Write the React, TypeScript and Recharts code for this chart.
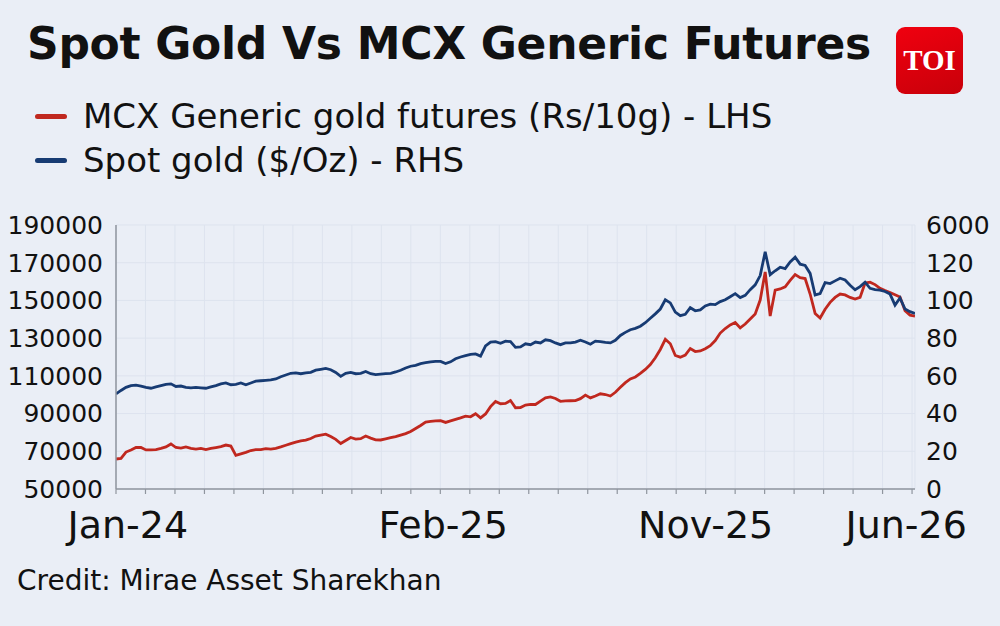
import React from "react";
import {
  LineChart,
  Line,
  XAxis,
  YAxis,
  CartesianGrid,
} from "recharts";

// MCX generic gold futures, Rs per 10g (left scale)
const mcxFutures = [
  65900, 66200, 69600, 70700, 72000, 72000, 70700, 70700, 70900, 71500,
  72300, 73900, 72000, 71700, 72300, 71500, 71200, 71500, 70900, 71500,
  72000, 72500, 73300, 72800, 67800, 68600, 69400, 70400, 70900, 70900,
  71400, 71200, 71500, 72300, 73200, 74100, 74900, 75500, 75900, 76800,
  78100, 78600, 79100, 77800, 76300, 74100, 75700, 77300, 76500, 76700,
  78100, 77000, 76100, 76000, 76600, 77200, 77800, 78600, 79400, 80500,
  82100, 83700, 85500, 85900, 86100, 86200, 85300, 86100, 86900, 87700,
  88600, 88300, 89900, 87700, 89800, 93700, 96400, 95200, 95400, 96900,
  93100, 93200, 94500, 94900, 94800, 96600, 98300, 98800, 98000, 96500,
  96700, 96800, 96900, 97900, 99800, 98300, 99300, 100500, 100100, 99300,
  101300, 103900, 106400, 108400, 109400, 111300, 113400, 116000, 119600, 124000,
  129400, 127000, 120800, 119900, 121000, 124500, 122900, 123200, 124400, 126000,
  128700, 132700, 135100, 137000, 138300, 135400, 137500, 140200, 142800, 150200,
  165100, 141700, 155500, 156100, 157200, 160600, 163700, 162100, 161600, 153400,
  143100, 140700, 145300, 149000, 151600, 153400, 152900, 151600, 150700, 151600,
  159200, 159700, 158400, 156400, 155200, 154200, 153000, 151800, 144600, 142200,
  141700,
];

// Spot gold, $ per oz (right scale)
const spotGold = [
  2160, 2240, 2310, 2350, 2360, 2340, 2310, 2290, 2320, 2350,
  2380, 2390, 2330, 2340, 2310, 2300, 2310, 2300, 2290, 2320,
  2350, 2390, 2410, 2370, 2380, 2410, 2370, 2410, 2450, 2460,
  2470, 2480, 2500, 2550, 2590, 2630, 2640, 2620, 2640, 2650,
  2700, 2720, 2740, 2710, 2650, 2560, 2630, 2650, 2620, 2630,
  2670, 2620, 2600, 2610, 2620, 2630, 2660, 2700, 2750, 2790,
  2810, 2850, 2870, 2890, 2900, 2900, 2850, 2890, 2960, 3000,
  3030, 3060, 3070, 3020, 3250, 3340, 3350, 3310, 3360, 3350,
  3220, 3230, 3300, 3280, 3340, 3320, 3390, 3370, 3320, 3280,
  3320, 3320, 3340, 3380, 3340, 3290, 3360, 3350, 3330, 3320,
  3380, 3490, 3560, 3620, 3650, 3700, 3780, 3880, 3980, 4090,
  4300, 4230, 4020, 3940, 3970, 4120, 4050, 4070, 4160, 4200,
  4190, 4260, 4300, 4370, 4440, 4350, 4400, 4530, 4640, 4850,
  5390, 4870, 4960, 5040, 5010, 5160, 5270, 5110, 5080, 4900,
  4410, 4440, 4690, 4670, 4730, 4790, 4750, 4630, 4530, 4600,
  4700, 4560, 4530, 4520, 4490, 4430, 4180, 4340, 4090, 4030,
  3990,
];

// x axis runs in months from the start of Jan-24
const SPAN = 27.1;
const monthTicks = Array.from({ length: 28 }, (_, i) => i);
const xLabelAt = [0.4, 11.1, 20, 26.8];
const xLabels = ["Jan-24", "Feb-25", "Nov-25", "Jun-26"];

const leftTicks = [50000, 70000, 90000, 110000, 130000, 150000, 170000, 190000];
const rightTickMarks = [0, 1000, 2000, 3000, 4000, 5000, 6000];
const rightLabelSlots = [0, 20, 40, 60, 80, 100, 120, 140];
const rightLabels = ["0", "20", "40", "60", "80", "100", "120", "6000"];

const legendItems = [
  { name: "MCX Generic gold futures (Rs/10g) - LHS", color: "#c0281f" },
  { name: "Spot gold ($/Oz) - RHS", color: "#173b73" },
];

const data = mcxFutures.map((v, i) => ({
  t: (i * SPAN) / (mcxFutures.length - 1),
  mcx: v,
  spot: spotGold[i],
}));

const FONT = "'DejaVu Sans', sans-serif";
const AXIS = "#8f959e";
const noLabel = () => "";

export default function App() {
  return (
    <div
      style={{
        position: "absolute",
        left: 0,
        top: 0,
        width: 1000,
        height: 626,
        background: "#eaeef6",
        fontFamily: FONT,
        color: "#111",
        overflow: "hidden",
      }}
    >
      <div
        style={{
          position: "absolute",
          left: 27,
          top: 18,
          fontSize: 44,
          fontWeight: 700,
          whiteSpace: "nowrap",
          letterSpacing: -0.3,
        }}
      >
        Spot Gold Vs MCX Generic Futures
      </div>
      <div
        style={{
          position: "absolute",
          left: 896,
          top: 27,
          width: 67,
          height: 67,
          borderRadius: 9,
          background: "linear-gradient(160deg, #f0000f, #c8000a)",
          color: "#fff",
          fontFamily: "'Liberation Serif', serif",
          fontWeight: 700,
          fontSize: 29,
          display: "flex",
          alignItems: "center",
          justifyContent: "center",
        }}
      >
        TOI
      </div>
      {legendItems.map((item, i) => (
        <div
          key={item.name}
          style={{
            position: "absolute",
            left: 35,
            top: 96 + i * 44,
            height: 40,
            display: "flex",
            alignItems: "center",
            fontSize: 34,
            whiteSpace: "nowrap",
          }}
        >
          <span
            style={{
              display: "inline-block",
              width: 32,
              height: 5,
              borderRadius: 3,
              background: item.color,
              marginRight: 16,
            }}
          />
          {item.name}
        </div>
      ))}
      <div
        style={{
          position: "absolute",
          left: 17,
          top: 564,
          fontSize: 28,
          whiteSpace: "nowrap",
        }}
      >
        Credit: Mirae Asset Sharekhan
      </div>

      <LineChart
        width={1000}
        height={626}
        data={data}
        margin={{ top: 225, right: 10, bottom: 81, left: 6 }}
      >
        <CartesianGrid
          xAxisId="a"
          yAxisId="l"
          stroke="#dde3ee"
          strokeWidth={1}
        />
        <XAxis
          xAxisId="a"
          type="number"
          dataKey="t"
          domain={[0, SPAN]}
          ticks={monthTicks}
          tickFormatter={noLabel}
          interval={0}
          tickSize={5}
          tickLine={{ stroke: AXIS, strokeWidth: 1.2 }}
          axisLine={{ stroke: AXIS, strokeWidth: 1.5 }}
          height={6}
          allowDataOverflow
        />
        <XAxis
          xAxisId="b"
          type="number"
          dataKey="t"
          domain={[0, SPAN]}
          ticks={xLabelAt}
          tickFormatter={(v: number) => xLabels[xLabelAt.indexOf(v)]}
          axisLine={false}
          tickLine={false}
          tickSize={0}
          tickMargin={16}
          height={50}
          interval={0}
          tick={{ fontSize: 38, fill: "#111", fontFamily: FONT }}
          allowDataOverflow
        />
        <YAxis
          yAxisId="l"
          domain={[50000, 190000]}
          ticks={leftTicks}
          width={110}
          tickSize={0}
          tickMargin={13}
          tickLine={false}
          axisLine={{ stroke: AXIS, strokeWidth: 1.5 }}
          interval={0}
          tick={{ fontSize: 25, fill: "#111", fontFamily: FONT }}
          allowDataOverflow
        />
        <YAxis
          yAxisId="r"
          orientation="right"
          domain={[0, 6000]}
          ticks={rightTickMarks}
          tickFormatter={noLabel}
          interval={0}
          width={0}
          mirror
          tickSize={4}
          tickLine={{ stroke: AXIS, strokeWidth: 1.2 }}
          axisLine={{ stroke: AXIS, strokeWidth: 1.5 }}
          allowDataOverflow
        />
        <YAxis
          yAxisId="rl"
          orientation="right"
          domain={[0, 140]}
          ticks={rightLabelSlots}
          tickFormatter={(v: number) => rightLabels[rightLabelSlots.indexOf(v)]}
          width={75}
          tickSize={0}
          tickMargin={11}
          tickLine={false}
          axisLine={false}
          interval={0}
          tick={{ fontSize: 25, fill: "#111", fontFamily: FONT }}
          allowDataOverflow
        />
        <Line
          xAxisId="a"
          yAxisId="l"
          type="linear"
          dataKey="mcx"
          stroke="#c0281f"
          strokeWidth={2.8}
          dot={false}
          isAnimationActive={false}
        />
        <Line
          xAxisId="a"
          yAxisId="r"
          type="linear"
          dataKey="spot"
          stroke="#173b73"
          strokeWidth={2.8}
          dot={false}
          isAnimationActive={false}
        />
      </LineChart>
    </div>
  );
}
